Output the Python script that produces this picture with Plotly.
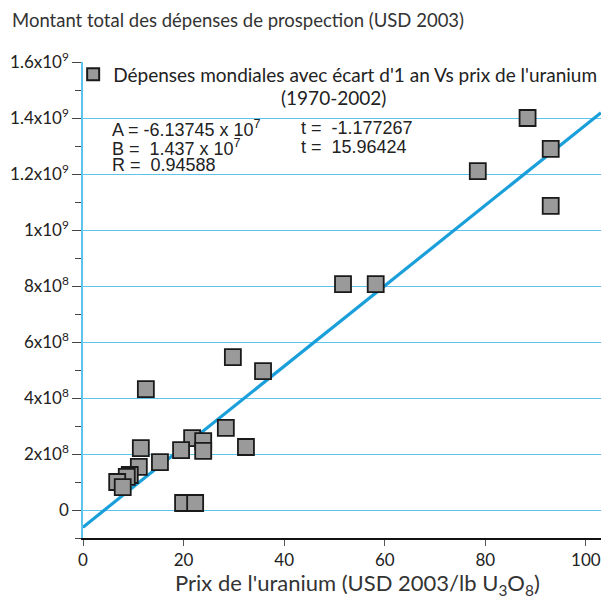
import plotly.graph_objects as go

# Data (price USD 2003/lb U3O8, exploration spend USD 2003)
prix = [88.4, 93.0, 78.5, 93.0, 51.7, 58.2, 29.8, 35.8, 12.5, 28.4, 32.4, 21.7,
        23.9, 23.9, 19.5, 15.3, 11.1, 11.5, 9.3, 8.7, 6.8, 7.9, 19.9, 22.3]
depenses = [1.40e9, 1.29e9, 1.21e9, 1.086e9, 8.07e8, 8.07e8, 5.46e8, 4.96e8, 4.32e8,
            2.93e8, 2.25e8, 2.57e8, 2.46e8, 2.11e8, 2.14e8, 1.71e8, 1.54e8, 2.21e8,
            1.25e8, 1.18e8, 1.00e8, 0.82e8, 0.25e8, 0.25e8]

# Regression parameters
A = -6.13745e7
B = 1.437e7

x_range = [0, 103]
y_range = [-1.0e8, 1.6e9]

y_tickvals = [0, 2e8, 4e8, 6e8, 8e8, 1e9, 1.2e9, 1.4e9, 1.6e9]
y_ticktext = ["0", "2x10<sup>8</sup>", "4x10<sup>8</sup>", "6x10<sup>8</sup>",
              "8x10<sup>8</sup>", "1x10<sup>9</sup>", "1.2x10<sup>9</sup>",
              "1.4x10<sup>9</sup>", "1.6x10<sup>9</sup>"]
x_tickvals = [0, 20, 40, 60, 80, 100]

FONT = "Lato, sans-serif"
STATFONT = "Liberation Sans, Arial, sans-serif"
BLUE = "#1a9fdb"
GRID = "#5cc3ec"

fit_x = [x_range[0], x_range[1]]
fit_y = [A + B * v for v in fit_x]

fig = go.Figure()
fig.add_trace(go.Scatter(
    x=fit_x, y=fit_y, mode="lines",
    line=dict(color=BLUE, width=3.2), showlegend=False, hoverinfo="skip"))
fig.add_trace(go.Scatter(
    x=prix, y=depenses, mode="markers",
    name="Dépenses mondiales avec écart d'1 an Vs prix de l'uranium",
    marker=dict(symbol="square", size=16, color="#9a9a9a",
                line=dict(color="#1a1a1a", width=1.8))))

fig.update_layout(
    width=602, height=598,
    margin=dict(l=83, r=1, t=62, b=60, autoexpand=False),
    paper_bgcolor="white", plot_bgcolor="white",
    font=dict(family=FONT, size=17, color="#222"),
    showlegend=True,
    legend=dict(x=-0.019, y=1.014, xanchor="left", yanchor="top",
                bgcolor="rgba(0,0,0,0)", font=dict(size=19, family=FONT),
                itemsizing="constant", tracegroupgap=0,
                borderwidth=0),
    xaxis=dict(range=x_range, tickvals=x_tickvals, showgrid=False, zeroline=False,
               showline=True, linecolor="#111", linewidth=1.5,
               ticks="outside", ticklen=6, tickcolor="#555", tickwidth=1,
               ticklabeloverflow="allow",
               tickfont=dict(size=17, family=FONT)),
    yaxis=dict(range=y_range, tickvals=y_tickvals, ticktext=y_ticktext,
               showgrid=True, gridcolor=GRID, gridwidth=1.2, zeroline=False,
               showline=True, linecolor=GRID, linewidth=1.5,
               ticks="outside", ticklen=9, tickcolor="#444", tickwidth=1.2,
               minor=dict(dtick=1e8, tick0=0, ticks="outside", ticklen=6,
                          tickcolor="#444", showgrid=False),
               tickfont=dict(size=17, family=FONT)),
)

fig.add_annotation(xref="paper", yref="paper", x=0.484, y=0.926, xanchor="center",
                   yanchor="middle", showarrow=False, text="(1970-2002)",
                   font=dict(size=19, family=FONT))

stat_left = ["A = -6.13745 x 10<sup>7</sup>", "B =  1.437 x 10<sup>7</sup>", "R =  0.94588"]
stat_right = ["t =  -1.177267", "t =  15.96424"]
stat_y = [0.861, 0.821, 0.784]
for txt, yy in zip(stat_left, stat_y):
    fig.add_annotation(xref="paper", yref="paper", x=0.052, y=yy, xanchor="left",
                       yanchor="middle", showarrow=False, text=txt,
                       font=dict(size=18, family=STATFONT, color="#222"))
for txt, yy in zip(stat_right, stat_y):
    fig.add_annotation(xref="paper", yref="paper", x=0.417, y=yy, xanchor="left",
                       yanchor="middle", showarrow=False, text=txt,
                       font=dict(size=18, family=STATFONT, color="#222"))

fig.add_annotation(xref="paper", yref="paper", x=-0.141, y=1.088, xanchor="left",
                   yanchor="middle", showarrow=False,
                   text="Montant total des dépenses de prospection (USD 2003)",
                   font=dict(size=18.5, family=FONT, color="#333"))
fig.add_annotation(xref="paper", yref="paper", x=0.529, y=-0.097, xanchor="center",
                   yanchor="middle", showarrow=False,
                   text="Prix de l'uranium (USD 2003/lb U<sub>3</sub>O<sub>8</sub>)",
                   font=dict(size=22, family=FONT, color="#333"))

fig.write_html("out.html", config={"displayModeBar": False},
               post_script="document.body.style.margin='0px';")
